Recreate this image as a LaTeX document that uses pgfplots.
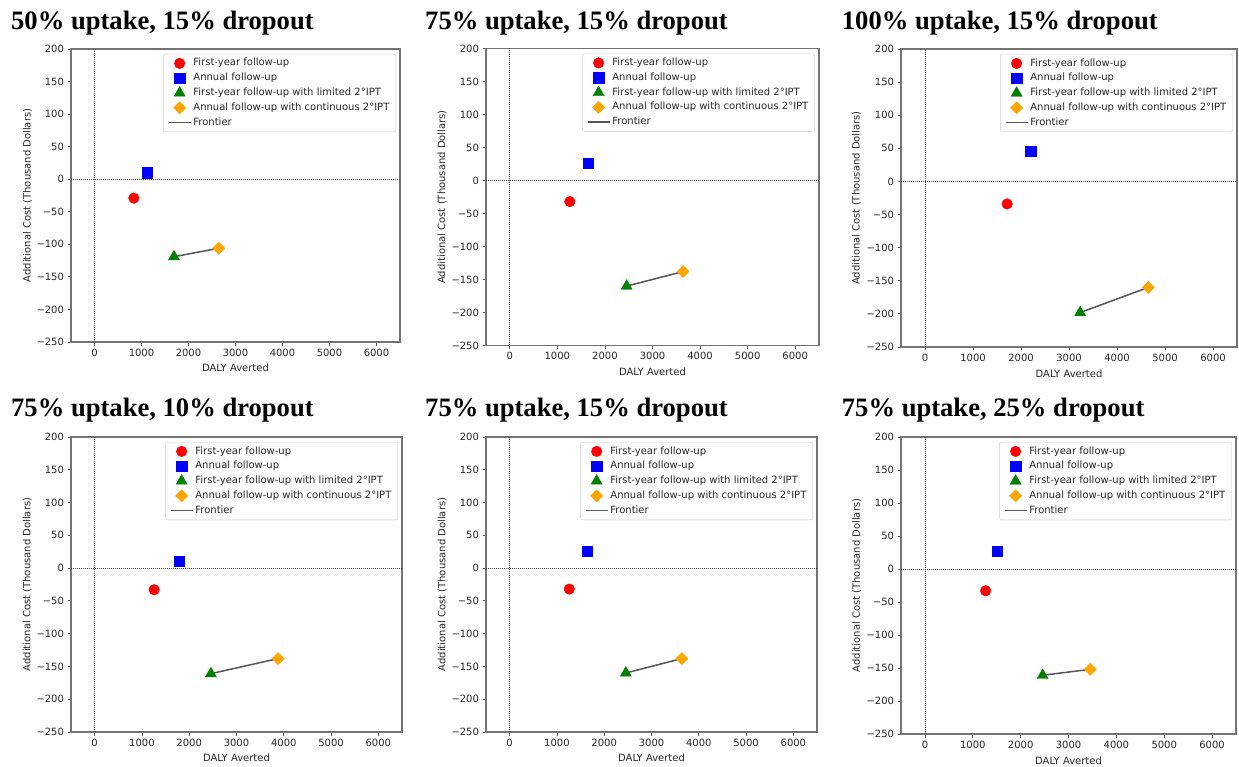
\documentclass[border=0pt]{standalone}
\usepackage{fontspec}
\setmainfont{DejaVu Sans}
\newfontfamily\titlefont{Liberation Serif}
\usepackage{pgfplots}
\pgfplotsset{compat=1.18}
\definecolor{mred}{HTML}{FF0000}
\definecolor{mblue}{HTML}{0000FF}
\definecolor{mgreen}{HTML}{008000}
\definecolor{morange}{HTML}{FFA500}
\definecolor{mfront}{HTML}{555555}
\definecolor{mtext}{HTML}{262626}
\pgfplotsset{
  panel/.style={
    scale only axis, anchor=north west,
    xmin=-500, xmax=6500, ymin=-250, ymax=200,
    xtick={0,1000,2000,3000,4000,5000,6000},
    xticklabels={0,1000,2000,3000,4000,5000,6000},
    ytick={-250,-200,-150,-100,-50,0,50,100,150,200},
    yticklabels={−250,−200,−150,−100,−50,0,50,100,150,200},
    tick pos=left, tick align=outside,
    major tick length=3.5pt,
    tick style={black!65, line width=0.8pt},
    axis line style={black!55, line width=1.1pt},
    tick label style={font=\fontsize{10}{12}\selectfont, text=mtext},
    label style={font=\fontsize{10}{12}\selectfont, text=mtext},
    xlabel={DALY Averted},
    ylabel={Additional Cost (Thousand Dollars)},
    xlabel style={at={(axis description cs:0.5,-0.089)}, anchor=center},
    ylabel style={at={(axis description cs:-0.1325,0.5)}, anchor=center},
    legend cell align=left,
    legend image code/.code={\draw[mark repeat=2,mark phase=2,##1] plot coordinates {(0pt,0pt) (11pt,0pt) (22pt,0pt)};},
    legend style={
      at={(axis description cs:0.988,0.983)}, anchor=north east,
      draw=black!20, rounded corners=2pt, fill=white,
      font=\fontsize{10}{12}\selectfont, text=mtext,
      inner xsep=4.5pt, inner ysep=1.8pt, row sep=0pt,
      nodes={inner ysep=2.4pt, text height=7.6pt, text depth=2.4pt},
    },
  },
  zl/.style={forget plot, black!75, line width=0.6pt, dash pattern=on 1pt off 1pt},
  pred/.style={only marks, mark=*, mark size=5.3pt, mred, mark options={draw=mred, fill=mred}},
  pblue/.style={only marks, mark=square*, mark size=5.1pt, mblue, mark options={draw=mblue, fill=mblue}},
  pgreen/.style={only marks, mark=triangle*, mark size=6.4pt, mgreen, mark options={draw=mgreen, fill=mgreen}},
  porange/.style={only marks, mark=square*, mark size=4.3pt, morange, mark options={draw=morange, fill=morange, rotate=45}},
  pfront/.style={no marks, mfront, line width=1.5pt},
}
\newcommand{\ttl}[3]{\node[anchor=base west, inner sep=0pt, font=\titlefont\bfseries\fontsize{26.6}{30}\selectfont] at (#1pt,#2pt) {#3};}
\newcommand{\legendall}{\legend{First-year follow-up, Annual follow-up, First-year follow-up with limited 2°IPT, Annual follow-up with continuous 2°IPT, Frontier}}
\begin{document}
\begin{tikzpicture}
\useasboundingbox (0pt,0pt) rectangle (1239pt,-767pt);
% Panel 1
\ttl{11}{-29.3}{50\% uptake, 15\% dropout}
\begin{axis}[panel, at={(71pt,-49pt)}, width=329pt, height=293pt]
\addplot[zl] coordinates {(0,-250) (0,200)};
\addplot[zl] coordinates {(-500,0) (6500,0)};
\addplot[pred] coordinates {(838,-29)};
\addplot[pblue] coordinates {(1123,10)};
\addplot[pgreen] coordinates {(1691,-119)};
\addplot[porange] coordinates {(2642,-106)};
\addplot[pfront] coordinates {(1691,-119) (2642,-106)};
\legendall
\end{axis}
% Panel 2
\ttl{425}{-29.3}{75\% uptake, 15\% dropout}
\begin{axis}[panel, at={(486pt,-48.5pt)}, width=333pt, height=297pt]
\addplot[zl] coordinates {(0,-250) (0,200)};
\addplot[zl] coordinates {(-500,0) (6500,0)};
\addplot[pred] coordinates {(1262,-32)};
\addplot[pblue] coordinates {(1644,26)};
\addplot[pgreen] coordinates {(2457,-160)};
\addplot[porange] coordinates {(3642,-138)};
\addplot[pfront] coordinates {(2457,-160) (3642,-138)};
\legendall
\end{axis}
% Panel 3
\ttl{841.7}{-29.3}{100\% uptake, 15\% dropout}
\begin{axis}[panel, at={(901pt,-49pt)}, width=336pt, height=298pt]
\addplot[zl] coordinates {(0,-250) (0,200)};
\addplot[zl] coordinates {(-500,0) (6500,0)};
\addplot[pred] coordinates {(1711,-34)};
\addplot[pblue] coordinates {(2200,46)};
\addplot[pgreen] coordinates {(3233,-198)};
\addplot[porange] coordinates {(4651,-160)};
\addplot[pfront] coordinates {(3233,-198) (4651,-160)};
\legendall
\end{axis}
% Panel 4
\ttl{11}{-416.7}{75\% uptake, 10\% dropout}
\begin{axis}[panel, at={(71pt,-437pt)}, width=331pt, height=295pt]
\addplot[zl] coordinates {(0,-250) (0,200)};
\addplot[zl] coordinates {(-500,0) (6500,0)};
\addplot[pred] coordinates {(1258,-33)};
\addplot[pblue] coordinates {(1781,10)};
\addplot[pgreen] coordinates {(2459,-161)};
\addplot[porange] coordinates {(3880,-138)};
\addplot[pfront] coordinates {(2459,-161) (3880,-138)};
\legendall
\end{axis}
% Panel 5
\ttl{425}{-416.7}{75\% uptake, 15\% dropout}
\begin{axis}[panel, at={(486pt,-437pt)}, width=331pt, height=295pt]
\addplot[zl] coordinates {(0,-250) (0,200)};
\addplot[zl] coordinates {(-500,0) (6500,0)};
\addplot[pred] coordinates {(1262,-32)};
\addplot[pblue] coordinates {(1644,26)};
\addplot[pgreen] coordinates {(2457,-160)};
\addplot[porange] coordinates {(3642,-138)};
\addplot[pfront] coordinates {(2457,-160) (3642,-138)};
\legendall
\end{axis}
% Panel 6
\ttl{841.7}{-416.7}{75\% uptake, 25\% dropout}
\begin{axis}[panel, at={(901pt,-437pt)}, width=335pt, height=297pt]
\addplot[zl] coordinates {(0,-250) (0,200)};
\addplot[zl] coordinates {(-500,0) (6500,0)};
\addplot[pred] coordinates {(1268,-33)};
\addplot[pblue] coordinates {(1514,27)};
\addplot[pgreen] coordinates {(2460,-161)};
\addplot[porange] coordinates {(3455,-152)};
\addplot[pfront] coordinates {(2460,-161) (3455,-152)};
\legendall
\end{axis}
\end{tikzpicture}
\end{document}
